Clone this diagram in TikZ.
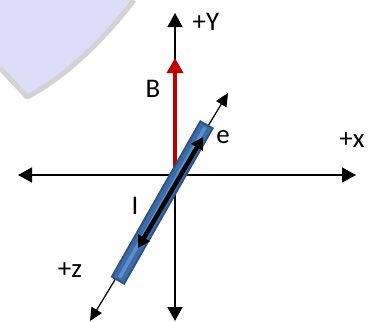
\documentclass[tikz,border=0pt]{standalone}
\usepackage{fontspec}
\setmainfont{Carlito}
\usetikzlibrary{arrows.meta}
\definecolor{lav}{HTML}{DDDDF7}
\definecolor{bordergray}{HTML}{D3D3D6}
\definecolor{bred}{HTML}{C00000}
\definecolor{roddark}{HTML}{2F5281}
\definecolor{rodmid}{HTML}{3E6BA6}
\definecolor{rodlight}{HTML}{5A8FD0}
\begin{document}
\begin{tikzpicture}[x=1bp,y=-1bp,
  lbl/.style={font=\fontsize{27}{31}\selectfont, inner sep=0pt},
  axis/.style={line width=1.5bp, {Triangle[length=14bp,width=15bp]}-{Triangle[length=14bp,width=15bp]}},
  zaxis/.style={line width=1.2bp, {Triangle[length=13bp,width=12bp]}-{Triangle[length=13bp,width=12bp]}},
  current/.style={line width=4.5bp, {Triangle[length=12bp,width=13bp]}-{Triangle[length=12bp,width=13bp]}},
  field/.style={bred, line width=3.5bp, -{Triangle[length=15bp,width=16bp]}}]
\useasboundingbox (0,0) rectangle (371,322);
% background shape
\fill[lav] (0,0) -- (0,68) -- (27,97) .. controls (70,75) and (110,32) .. (134,0) -- cycle;
\draw[bordergray, line width=5bp, line join=round] (0,68) -- (27,97) .. controls (70,75) and (110,32) .. (134,0);
% coordinates
\coordinate (yt) at (175,13);
\coordinate (yb) at (175,321);
\coordinate (xl) at (18,175);
\coordinate (xr) at (356,175);
\coordinate (o) at (175,175);
\coordinate (bt) at (175,58);
\coordinate (zt) at (228,93);
\coordinate (zb) at (90,321);
\coordinate (rt) at (207,124);
\coordinate (rb) at (117.5,281);
\coordinate (at) at (203,137);
\coordinate (ab) at (138,248);
% axes
\draw[axis] (yb) -- (yt);
\draw[axis] (xl) -- (xr);
\draw[zaxis] (zb) -- (zt);
% field B
\draw[field] (o) -- (bt);
% rod
\draw[roddark, line width=16bp] (rb) -- (rt);
\draw[rodmid, line width=12bp, shorten <=2bp, shorten >=2bp] (rb) -- (rt);
\draw[rodlight, line width=3.5bp, shorten <=4bp, shorten >=4bp] (rb) -- (rt);
% current arrow
\draw[current] (ab) -- (at);
% labels
\node[lbl] (ly) at (206,22) {+Y};
\node[lbl] (lb) at (153,89) {B};
\node[lbl] (le) at (223,137) {e};
\node[lbl] (lx) at (352,140) {+x};
\node[lbl] (li) at (135,206) {I};
\node[lbl] (lz) at (70,270) {+z};
\end{tikzpicture}
\end{document}
